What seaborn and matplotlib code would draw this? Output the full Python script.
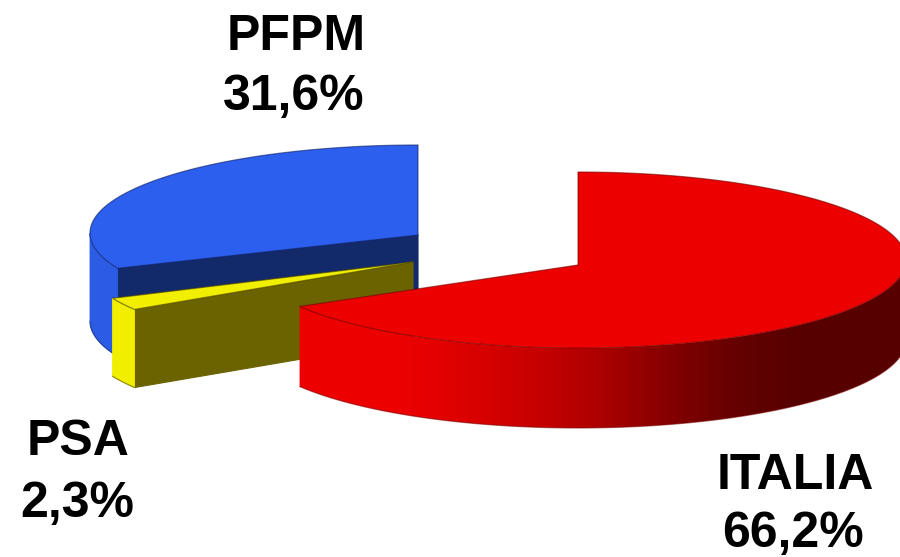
import numpy as np
import matplotlib
matplotlib.use("Agg")
import matplotlib.pyplot as plt
from matplotlib.patches import Polygon
from matplotlib.colors import LinearSegmentedColormap
import seaborn as sns

# Shares of the three slices, in clockwise order from twelve o'clock
labels = ["ITALIA", "PSA", "PFPM"]
values = [66.2, 2.3, 31.6]

# Slice colours
top_colors = ["#EC0000", "#F2EE00", "#2D5FEE"]
face_colors = [None, "#6B6300", "#12296A"]
wall_colors = [None, "#F2EE00", "#2C5CE4"]
edge_colors = ["#7A0000", "#4A4400", "#0E2266"]
red_wall_stops = ["#EC0000", "#DC0000", "#C80000", "#AC0000", "#860000", "#660000", "#560000"]

# Pie geometry in canvas pixels: rim centre, apex y, radii, wall depth
cx = [578, 413, 418]
cy = [260, 263, 233]
apex_y = [265, 262, 235]
rx = 328
ry = 88
depth = [80, 78, 88]

sns.set_theme(style="white")
plt.rcParams["font.family"] = ["Liberation Sans", "DejaVu Sans"]

fig = plt.figure(figsize=(9, 5.57), dpi=100)
ax = fig.add_axes([0, 0, 1, 1])
ax.axis("off")

red_cmap = LinearSegmentedColormap.from_list("wall", sns.color_palette(red_wall_stops))


def rim(i, theta):
    """Point on the slice's elliptical rim; theta runs clockwise from the top, in degrees."""
    t = np.radians(theta)
    return cx[i] + rx * np.sin(t), cy[i] - ry * np.cos(t)


def draw_slice(i, start, stop, z):
    th = np.linspace(start, stop, 300)
    x, y = rim(i, th)

    # Inner cut face, seen from the front along the slice's first edge
    if face_colors[i] is not None:
        x0, y0 = x[0], y[0]
        ax.fill([cx[i], x0, x0, cx[i]],
                [apex_y[i], y0, y0 + depth[i], apex_y[i] + depth[i]],
                color=face_colors[i], lw=0.8, zorder=z)

    # Outer wall on the front half of the rim
    front = (th > 90) & (th < 270)
    fx, fy = x[front], y[front]
    wall_x = np.r_[fx, fx[::-1]]
    wall_y = np.r_[fy, fy[::-1] + depth[i]]
    if i == 0:
        # Shaded wall: a horizontal ramp clipped to the wall outline
        ramp = np.linspace(0, 1, 400)[None, :]
        image = ax.imshow(ramp, cmap=red_cmap, vmin=0, vmax=1, extent=(400, 800, 500, 150),
                          aspect="auto", interpolation="bilinear", zorder=z + 0.1)
        left_pad = ax.fill([280, 401, 401, 280], [150, 150, 500, 500],
                           color=red_wall_stops[0], lw=0, zorder=z + 0.1)[0]
        right_pad = ax.fill([799, 920, 920, 799], [150, 150, 500, 500],
                            color=red_wall_stops[-1], lw=0, zorder=z + 0.1)[0]
        outline = Polygon(np.c_[wall_x, wall_y], closed=True, transform=ax.transData)
        for artist in (image, left_pad, right_pad):
            artist.set_clip_path(outline)
        ax.plot([fx[0], fx[0]], [fy[0], fy[0] + depth[i]], color="#A00000", lw=1.5, zorder=z + 0.15)
    else:
        ax.fill(wall_x, wall_y, color=wall_colors[i], lw=0.6, zorder=z + 0.1)
    ax.plot(fx, fy + depth[i], color=edge_colors[i], lw=0.9, alpha=0.55, zorder=z + 0.15)

    # Top surface
    ax.fill(np.r_[cx[i], x], np.r_[apex_y[i], y], color=top_colors[i], lw=0, zorder=z + 0.2)
    ax.plot(np.r_[cx[i], x, cx[i]], np.r_[apex_y[i], y, apex_y[i]],
            color=edge_colors[i], lw=0.9, alpha=0.6, zorder=z + 0.25)


# Slice angles follow from the shares
shares = np.array(values) / np.sum(values) * 360
stops = np.cumsum(shares)
starts = stops - shares

# Back to front: PFPM, PSA, then ITALIA
draw_slice(2, starts[2], stops[2], 1)
draw_slice(1, starts[1], stops[1], 2)
draw_slice(0, starts[0], stops[0], 3)

# Two-line captions with name and share
name_xy = [(795.5, 489), (78, 455), (296, 50)]
pct_xy = [(793, 547), (77.5, 517), (294, 110)]
for name, val, nxy, pxy in zip(labels, values, name_xy, pct_xy):
    pct = f"{val:.1f}".replace(".", ",") + "%"
    style = dict(ha="center", va="baseline", fontsize=36, fontweight="bold",
                 color="black", zorder=10)
    ax.text(*nxy, name, **style)
    ax.text(*pxy, pct, **style)

ax.set_xlim(0, 900)
ax.set_ylim(557, 0)
fig.savefig("out.png", dpi=100, facecolor="white")
